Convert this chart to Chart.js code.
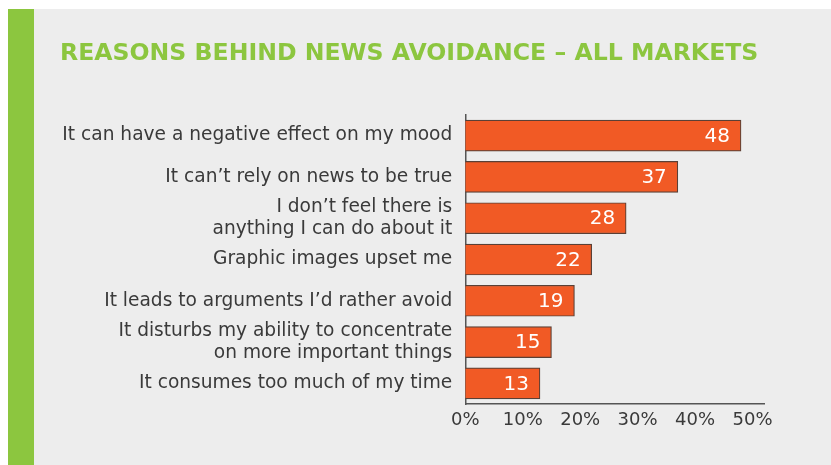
<!DOCTYPE html>
<html>
<head>
<meta charset="utf-8">
<script src="https://cdn.jsdelivr.net/npm/chart.js@4.4.1/dist/chart.umd.min.js"></script>
<style>
  html, body { margin: 0; padding: 0; background: #ffffff; width: 831px; height: 465px; overflow: hidden; }
  #green { position: absolute; left: 8px; top: 9px; width: 26px; height: 456px; background: #8cc63f; }
  #wrap { position: absolute; left: 34px; top: 9px; width: 797px; height: 456px; background: #ededed; }
</style>
</head>
<body>
<div id="green"></div>
<div id="wrap"><canvas id="c" width="797" height="456"></canvas></div>
<script>
const titleText = 'REASONS BEHIND NEWS AVOIDANCE – ALL MARKETS';
const categories = [
  'It can have a negative effect on my mood',
  'It can’t rely on news to be true',
  ['I don’t feel there is', 'anything I can do about it'],
  'Graphic images upset me',
  'It leads to arguments I’d rather avoid',
  ['It disturbs my ability to concentrate', 'on more important things'],
  'It consumes too much of my time'
];
const values = [48, 37, 28, 22, 19, 15, 13];
const xTicks = [0, 10, 20, 30, 40, 50];

const valueLabels = {
  id: 'valueLabels',
  afterDatasetsDraw(chart) {
    const ctx = chart.ctx;
    const meta = chart.getDatasetMeta(0);
    ctx.save();
    ctx.fillStyle = '#ffffff';
    ctx.font = '20px "DejaVu Sans"';
    ctx.textAlign = 'right';
    ctx.textBaseline = 'middle';
    meta.data.forEach((bar, i) => {
      ctx.fillText(String(values[i]), bar.x - 11, bar.y + 1);
    });
    ctx.restore();
  }
};

new Chart(document.getElementById('c'), {
  type: 'bar',
  data: {
    labels: categories,
    datasets: [{
      data: values,
      backgroundColor: '#f15a25',
      borderColor: '#5a4036',
      borderWidth: 1.2,
      borderSkipped: 'left',
      barThickness: 31
    }]
  },
  options: {
    indexAxis: 'y',
    responsive: false,
    animation: false,
    layout: { padding: { left: 26, right: 67, top: 0, bottom: 0 } },
    plugins: {
      legend: { display: false },
      tooltip: { enabled: false },
      title: {
        display: true,
        text: titleText,
        align: 'start',
        color: '#8cc63f',
        font: { family: '"DejaVu Sans"', size: 23.6, weight: 'bold', lineHeight: 1.2 },
        padding: { top: 30.8, bottom: 46.9 }
      }
    },
    scales: {
      x: {
        min: 0,
        max: 52,
        afterBuildTicks(scale) { scale.ticks = xTicks.map(v => ({ value: v })); },
        afterFit(scale) { scale.height = 61; },
        grid: { display: false, drawTicks: false },
        border: { display: true, color: '#555555', width: 1.5 },
        ticks: {
          padding: 6,
          color: '#3a3a3a',
          font: { family: '"DejaVu Sans"', size: 18 },
          callback: v => v + '%',
          maxRotation: 0
        }
      },
      y: {
        afterFit(scale) { scale.width = 405.3; },
        grid: { display: false, drawTicks: false },
        border: { display: true, color: '#555555', width: 1.5 },
        ticks: {
          autoSkip: false,
          padding: 13,
          color: '#3a3a3a',
          font: { family: '"DejaVu Sans"', size: 18.6, lineHeight: 1.17 }
        }
      }
    }
  },
  plugins: [valueLabels]
});
</script>
</body>
</html>
